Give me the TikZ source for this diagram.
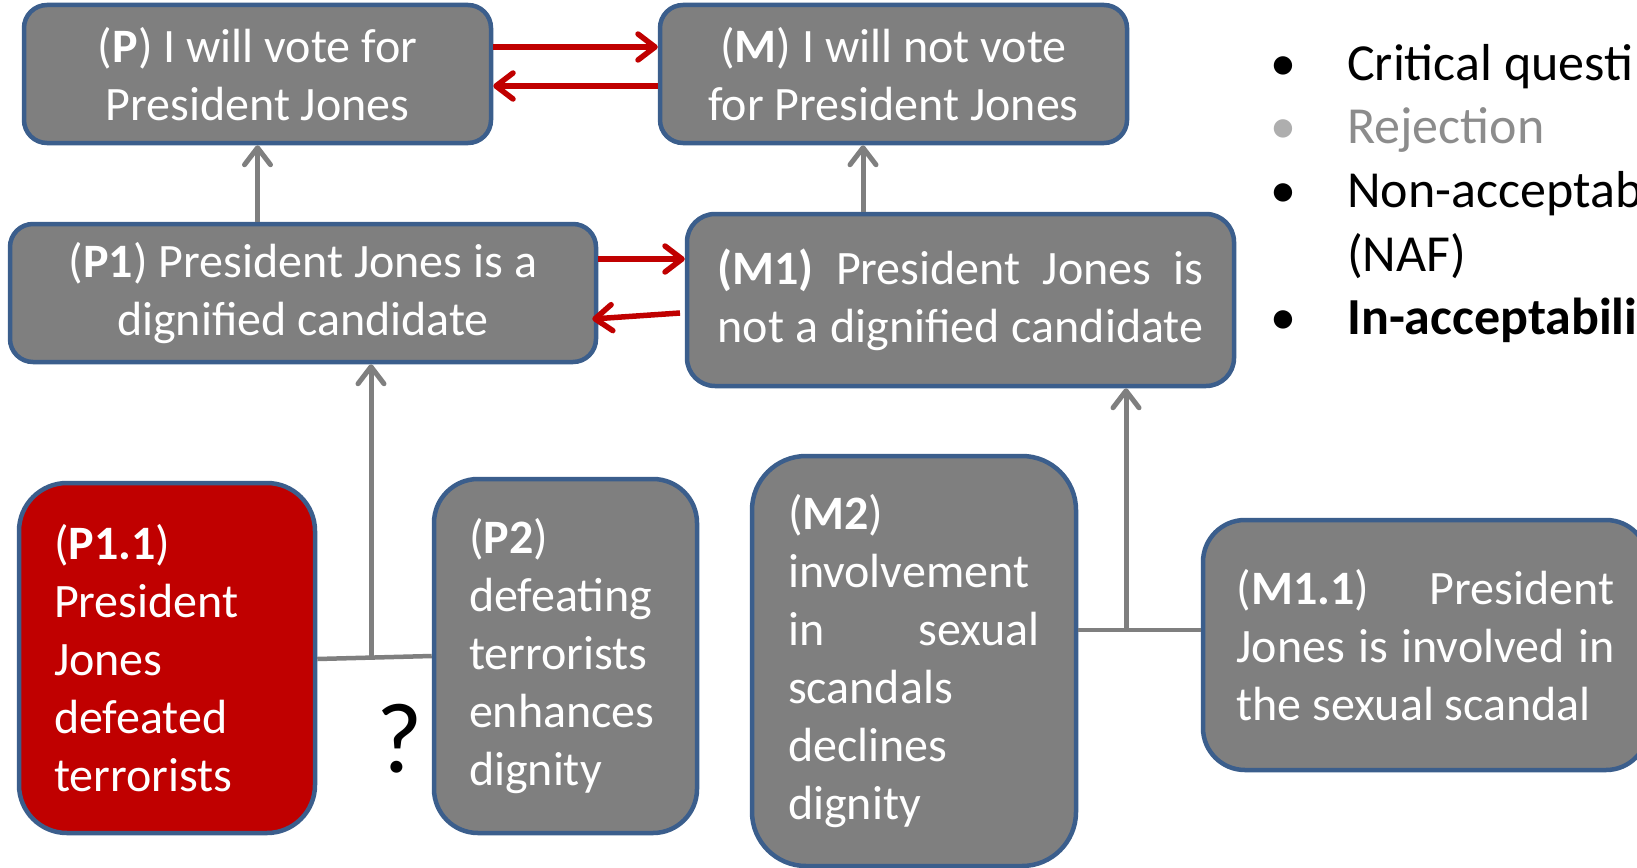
\documentclass[tikz,border=0pt]{standalone}
\usepackage{fontspec}
\setmainfont{Carlito}
\usetikzlibrary{arrows.meta}
\definecolor{boxgray}{HTML}{7F7F7F}
\definecolor{boxedge}{HTML}{3B5E8C}
\definecolor{attackred}{HTML}{C00000}
\definecolor{fadedgray}{HTML}{8C8C8C}
\newcommand{\jline}[1]{\makebox[\linewidth][s]{#1}}
\begin{document}
\begin{tikzpicture}[x=1pt,y=-1pt,
  claim/.style={rectangle, draw=boxedge, line width=4.5pt, fill=boxgray,
    text=white, inner sep=0pt, font=\fontsize{48}{58}\selectfont},
  redclaim/.style={claim, fill=attackred},
  attack/.style={draw=attackred, line width=5.5pt,
    -{Straight Barb[length=17pt,width=26pt,round]}},
  support/.style={draw=boxgray, line width=5pt,
    -{Straight Barb[length=17pt,width=26pt,round]}},
  link/.style={draw=boxgray, line width=4.5pt},
  listtext/.style={anchor=base west, inner sep=0pt, font=\fontsize{52}{65}\selectfont},
  bullet/.style={anchor=base, inner sep=0pt, font=\fontsize{52}{65}\selectfont},
]
\fill[white] (0,0) rectangle (1637,867);
\useasboundingbox (0,0) rectangle (1637,867);

% claims
\node[claim, minimum width=467pt, minimum height=138pt, rounded corners=23pt, align=center]
  (P) at (257.5,74) {(\textbf{P}) I will vote for\\President Jones};
\node[claim, minimum width=467pt, minimum height=138pt, rounded corners=23pt, align=center]
  (M) at (893.5,74) {(\textbf{M}) I will not vote\\for President Jones};
\node[claim, minimum width=586pt, minimum height=138pt, rounded corners=23pt, align=center]
  (P1) at (303,293) {(\textbf{P1}) President Jones is a\\dignified candidate};
\node[claim, minimum width=547pt, minimum height=172pt, rounded corners=28pt]
  (M1) at (960.5,300) {\parbox{486pt}{\jline{\textbf{(M1)} President Jones is}\\
    \jline{not a dignified candidate}}};

% premises
\node[redclaim, minimum width=296pt, minimum height=350pt, rounded corners=48pt]
  (P11) at (167,658) {\parbox{226pt}{\raggedright (\textbf{P1.1})\\President\\Jones\\defeated\\terrorists}};
\node[claim, minimum width=263pt, minimum height=354pt, rounded corners=44pt]
  (P2) at (565.5,656) {\parbox{193pt}{\raggedright (\textbf{P2})\\defeating\\terrorists\\enhances\\dignity}};
\node[claim, minimum width=324pt, minimum height=410pt, rounded corners=54pt]
  (M2) at (914,661) {\parbox{252pt}{(\textbf{M2})\\involvement\\\jline{in sexual}\\scandals\\declines\\dignity}};
\node[claim, minimum width=445pt, minimum height=250pt, rounded corners=42pt]
  (M11) at (1425.5,645) {\parbox{378pt}{\jline{(\textbf{M1.1}) President}\\
    \jline{Jones is involved in}\\the sexual scandal}};

% attacks between rival claims
\draw[attack] (P.east |- 0,47) -- (M.west |- 0,47);
\draw[attack] (M.west |- 0,86) -- (P.east |- 0,86);
\draw[attack] (P1.east |- 0,259) -- (M1.west |- 0,259);
\coordinate (m1tail) at (680,313);
\draw[attack] (m1tail) -- ([xshift=-6pt]P1.east |- 0,319);

% support links
\draw[support] (P.south |- P1.north) -- (P.south);
\draw[support] (M1.north -| 863,0) -- (M.south -| 863,0);

\coordinate (pj) at (371,658);
\draw[link] (P11.east |- 0,659) -- (P2.west |- 0,656);
\draw[support] (pj) -- (pj |- P1.south);
\node[font=\fontsize{100}{100}\selectfont, inner sep=0pt] (q) at (400,739) {?};

\coordinate (mj) at (1126,630);
\draw[link] (M2.east |- mj) -- (M11.west |- mj);
\draw[support] (mj) -- (mj |- M1.south);

% list of attack types
\node[bullet] (b1) at (1283,80) {•};
\node[listtext] (l1) at (1347,80) {Critical questi};
\node[bullet, text=fadedgray!70] (b2) at (1283,143) {•};
\node[listtext, text=fadedgray] (l2) at (1347,143) {Rejection};
\node[bullet] (b3) at (1283,207) {•};
\node[listtext] (l3) at (1347,207) {Non-acceptab};
\node[listtext] (l3b) at (1347,271) {(NAF)};
\node[bullet] (b4) at (1283,334) {•};
\node[listtext] (l4) at (1347,334) {\textbf{In-acceptabili}};
\end{tikzpicture}
\end{document}
